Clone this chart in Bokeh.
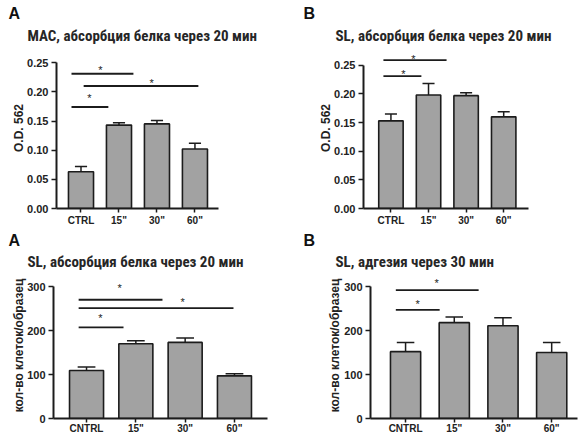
from bokeh.plotting import figure
from bokeh.models import FixedTicker, Title, Range1d, ColumnDataSource
from bokeh.layouts import column, row
from bokeh.core.properties import value
from bokeh.embed import file_html
from bokeh.resources import INLINE

# ---------------- data ----------------
top_cats = ["CTRL", '15"', '30"', '60"']
bottom_cats = ["CNTRL", '15"', '30"', '60"']

mac_mean = [0.063, 0.143, 0.145, 0.102]
mac_err = [0.009, 0.004, 0.006, 0.010]

sl_mean = [0.153, 0.198, 0.197, 0.160]
sl_err = [0.012, 0.020, 0.005, 0.009]

slc_mean = [109, 170, 173, 97]
slc_err = [8, 7, 10, 5]

adh_mean = [152, 218, 211, 150]
adh_err = [21, 13, 18, 23]

od_ticks = [0.0, 0.05, 0.10, 0.15, 0.20, 0.25]
od_labels = ["0.00", "0.05", "0.10", "0.15", "0.20", "0.25"]
cell_ticks = [0, 100, 200, 300]
cell_labels = ["0", "100", "200", "300"]

# significance brackets (x in category index units, y in data units)
mac_sig_x0 = [-0.25, -0.25, 0.07]
mac_sig_x1 = [0.72, 1.38, 3.09]
mac_sig_y = [0.174, 0.231, 0.210]
mac_star_x = [0.22, 0.51, 1.86]
mac_star_y = [0.195, 0.243, 0.221]

sl_sig_x0 = [-0.2, -0.2]
sl_sig_x1 = [0.81, 1.48]
sl_sig_y = [0.231, 0.259]
sl_star_x = [0.33, 0.60]
sl_star_y = [0.240, 0.267]

slc_sig_x0 = [-0.16, -0.16, -0.16]
slc_sig_x1 = [0.75, 1.54, 2.98]
slc_sig_y = [207, 270, 251]
slc_star_x = [0.28, 0.67, 1.95]
slc_star_y = [236, 304, 271]

adh_sig_x0 = [-0.2, -0.2]
adh_sig_x1 = [0.70, 1.50]
adh_sig_y = [247, 292]
adh_star_x = [0.25, 0.64]
adh_star_y = [268, 315]

# ---------------- styling ----------------
BAR_FILL = "#a2a2a2"
INK = "#1c1c1c"
TICK_FONT = "Liberation Sans"
TITLE_FONT = "Roboto Condensed"


def make_panel(letter, title, cats, means, errs, ylabel, yticks, ylabels, yend,
               xstart, xend, sx0, sx1, sy, stx, sty, width, height,
               b_left, b_right, b_top, b_bottom, bar_w, cap_hw,
               title_off, letter_off, ylab_standoff, title_standoff,
               xlab_standoff):
    p = figure(width=width, height=height, output_backend="svg",
               toolbar_location=None, title=None,
               x_range=Range1d(xstart, xend), y_range=Range1d(0, yend),
               min_border_left=b_left, min_border_right=b_right,
               min_border_top=b_top, min_border_bottom=b_bottom,
               background_fill_color="white", border_fill_color="white")
    p.outline_line_color = None
    p.grid.visible = False

    xs = list(range(len(cats)))
    src = ColumnDataSource(dict(x=xs, top=means,
                                hi=[m + e for m, e in zip(means, errs)],
                                cl=[x - cap_hw for x in xs],
                                cr=[x + cap_hw for x in xs]))
    p.vbar(x="x", top="top", width=bar_w, source=src, fill_color=BAR_FILL,
           line_color=INK, line_width=1.6)
    p.segment(x0="x", y0="top", x1="x", y1="hi", source=src,
              line_color=INK, line_width=1.5)
    p.segment(x0="cl", y0="hi", x1="cr", y1="hi", source=src,
              line_color=INK, line_width=1.5)

    p.segment(x0=sx0, y0=sy, x1=sx1, y1=sy, line_color=INK, line_width=1.8)
    p.text(x=stx, y=sty, text=["*"] * len(stx), text_align="center",
           text_baseline="middle", y_offset=3, text_font_size="11px",
           text_font=value(TICK_FONT), text_color=INK)

    # x axis
    xa = p.xaxis[0]
    xa.ticker = FixedTicker(ticks=xs)
    xa.major_label_overrides = {i: c for i, c in zip(xs, cats)}
    xa.major_label_text_font = TICK_FONT
    xa.major_label_text_font_style = "bold"
    xa.major_label_text_font_size = "10px"
    xa.major_label_text_color = "#222222"
    xa.major_label_standoff = xlab_standoff
    xa.major_tick_in = 0
    xa.major_tick_out = 4
    xa.minor_tick_line_color = None
    xa.axis_line_width = 2
    xa.axis_line_color = INK
    xa.major_tick_line_width = 1.5
    xa.major_tick_line_color = INK

    # y axis
    ya = p.yaxis[0]
    ya.ticker = FixedTicker(ticks=yticks)
    ya.major_label_overrides = {t: l for t, l in zip(yticks, ylabels)}
    ya.bounds = (yticks[0], yticks[-1])
    ya.major_label_text_font = TICK_FONT
    ya.major_label_text_font_style = "bold"
    ya.major_label_text_font_size = "11px"
    ya.major_label_text_color = "#222222"
    ya.major_label_standoff = 3
    ya.major_tick_in = 0
    ya.major_tick_out = 5
    ya.minor_tick_line_color = None
    ya.axis_line_width = 2
    ya.axis_line_color = INK
    ya.major_tick_line_width = 1.5
    ya.major_tick_line_color = INK
    ya.axis_label = ylabel
    ya.axis_label_text_font = TICK_FONT
    ya.axis_label_text_font_style = "bold"
    ya.axis_label_text_font_size = "12px"
    ya.axis_label_text_color = "#222222"
    ya.axis_label_standoff = ylab_standoff

    p.add_layout(Title(text=title, align="left", offset=title_off,
                       text_font=TITLE_FONT, text_font_style="bold",
                       text_font_size="15px", text_color="#262626",
                       standoff=title_standoff), "above")
    p.add_layout(Title(text=letter, align="left", offset=letter_off,
                       text_font="Liberation Sans", text_font_style="bold",
                       text_font_size="16px", text_color="#111111",
                       standoff=0), "above")
    return p


p1 = make_panel("A", "MAC, абсорбция белка через 20 мин", top_cats, mac_mean, mac_err,
                "O.D. 562", od_ticks, od_labels, 0.276, -0.645, 3.62,
                mac_sig_x0, mac_sig_x1, mac_sig_y, mac_star_x, mac_star_y,
                290, 229, 56, 72, 47, 21, 0.66, 0.16,
                -29, -48, -2, 6, 2)
p2 = make_panel("B", "SL, абсорбция белка через 20 мин", top_cats, sl_mean, sl_err,
                "O.D. 562", od_ticks, od_labels, 0.281, -0.73, 3.66,
                sl_sig_x0, sl_sig_x1, sl_sig_y, sl_star_x, sl_star_y,
                293, 229, 73, 55, 47, 21, 0.65, 0.16,
                -28, -60, -2, 6, 2)
p3 = make_panel("A", "SL, абсорбция белка через 20 мин", bottom_cats, slc_mean, slc_err,
                "кол-во клеток/образец", cell_ticks, cell_labels, 332, -0.67, 3.67,
                slc_sig_x0, slc_sig_x1, slc_sig_y, slc_star_x, slc_star_y,
                290, 207, 53, 23, 43, 17, 0.69, 0.18,
                -26, -45, -2, 4, 0)
p4 = make_panel("B", "SL, адгезия через 30 мин", bottom_cats, adh_mean, adh_err,
                "кол-во клеток/образец", cell_ticks, cell_labels, 332, -0.72, 3.53,
                adh_sig_x0, adh_sig_x1, adh_sig_y, adh_star_x, adh_star_y,
                293, 207, 80, 6, 43, 17, 0.62, 0.18,
                -35, -67, -1, 4, 0)

layout = column(row(p1, p2), row(p3, p4))
open("out.html", "w").write(file_html(layout, INLINE))
